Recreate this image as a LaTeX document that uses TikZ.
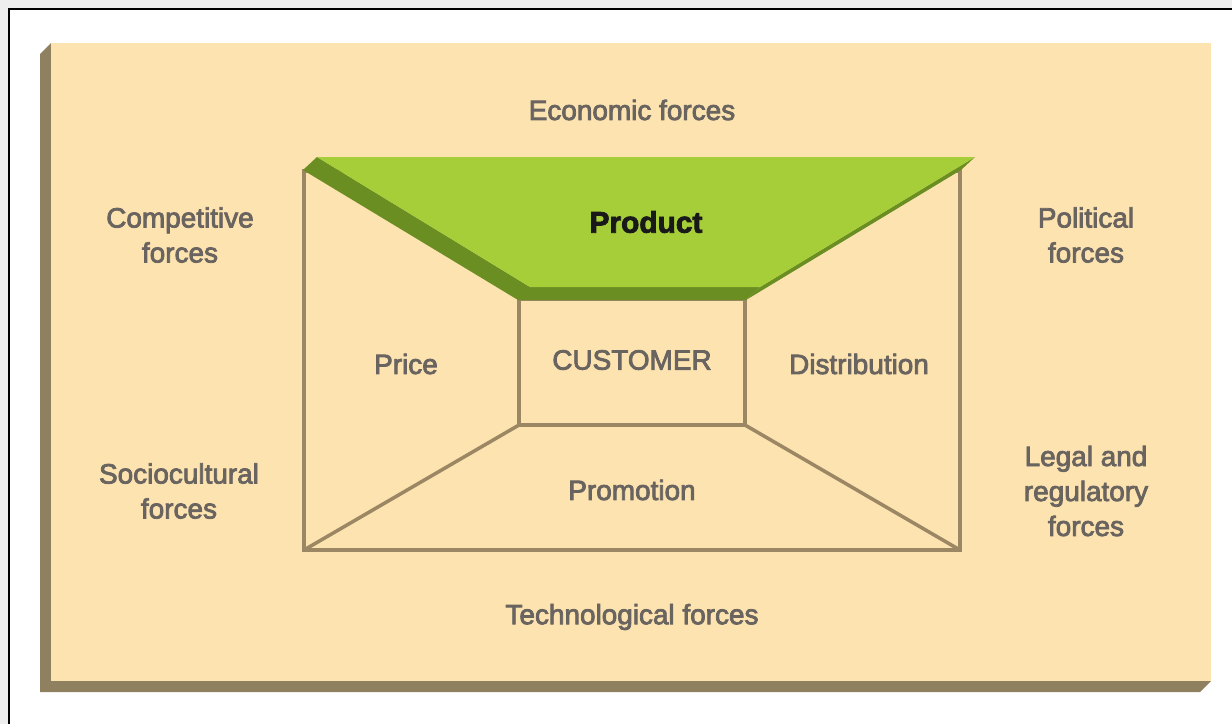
\documentclass[tikz,border=0pt]{standalone}
\usepackage{fontspec}
\setmainfont{Liberation Sans}
\newcommand\heavyon{\special{pdf:literal 2 Tr 0.45 w}}
\newcommand\heavyoff{\special{pdf:literal 0 Tr}}
\definecolor{panelc}{RGB}{253,227,176}
\definecolor{shadowc}{RGB}{143,128,96}
\definecolor{linec}{RGB}{155,135,100}
\definecolor{textc}{RGB}{105,100,95}
\definecolor{greenl}{RGB}{166,206,57}
\definecolor{greend}{RGB}{107,142,35}
\definecolor{outerc}{RGB}{238,238,238}
\begin{document}
\begin{tikzpicture}[x=0.02cm,y=-0.02cm,
  frameline/.style={draw=linec,line width=2pt,line join=miter},
  lbl/.style={text=textc,font=\fontsize{15.9}{19.9}\selectfont,align=center,inner sep=0pt},
  prodlbl/.style={text=black!90,font=\bfseries\fontsize{17}{20}\selectfont,inner sep=0pt}]
\useasboundingbox (0,0) rectangle (1232,724);
\fill[outerc] (0,0) rectangle (1232,724);
\fill[white] (9,9) rectangle (1232,724);
\draw[black,line width=1.5pt] (9,724) -- (9,9) -- (1232,9);
% panel with shadow
\fill[shadowc] (51,43) -- (40,54) -- (40,692) -- (1200,692) -- (1211,681) -- (51,681) -- cycle;
\fill[panelc] (51,43) rectangle (1211,681);
% frame
\coordinate (OTL) at (304,171);
\coordinate (OTR) at (960,171);
\coordinate (OBL) at (304,550);
\coordinate (OBR) at (960,550);
\coordinate (ITL) at (519,299);
\coordinate (ITR) at (745,299);
\coordinate (IBL) at (519,425);
\coordinate (IBR) at (745,425);
\draw[frameline] (OTL) rectangle (OBR);
\draw[frameline] (ITL) rectangle (IBR);
\draw[frameline] (OBL) -- (IBL);
\draw[frameline] (OBR) -- (IBR);
% product
\coordinate (PTL) at (317,157);
\coordinate (PTR) at (975,157);
\coordinate (PBL) at (530,287);
\coordinate (PBR) at (760,287);
\fill[greend] (PTL) -- (303,170) -- (518,300) -- (746,300) -- (PBR) -- (PBL) -- cycle;
\fill[greend] (PTR) -- (961,170) -- (746,300) -- (PBR) -- cycle;
\fill[greenl] (PTL) -- (PTR) -- (PBR) -- (PBL) -- cycle;
% labels
\node[prodlbl] (product) at (646,222) {\heavyon Product\heavyoff};
\node[lbl] (economic) at (632,110) {\heavyon Economic forces\heavyoff};
\node[lbl] (competitive) at (180,235) {\heavyon Competitive\heavyoff\\\heavyon forces\heavyoff};
\node[lbl] (political) at (1086,235) {\heavyon Political\heavyoff\\\heavyon forces\heavyoff};
\node[lbl] (price) at (406,364) {\heavyon Price\heavyoff};
\node[lbl] (customer) at (632,360) {\heavyon CUSTOMER\heavyoff};
\node[lbl] (distribution) at (859,364) {\heavyon Distribution\heavyoff};
\node[lbl] (promotion) at (632,490) {\heavyon Promotion\heavyoff};
\node[lbl] (socio) at (179,491) {\heavyon Sociocultural\heavyoff\\\heavyon forces\heavyoff};
\node[lbl] (legal) at (1086,491) {\heavyon Legal and\heavyoff\\\heavyon regulatory\heavyoff\\\heavyon forces\heavyoff};
\node[lbl] (techno) at (632,617) {\heavyon Technological forces\heavyoff};
\end{tikzpicture}
\end{document}
